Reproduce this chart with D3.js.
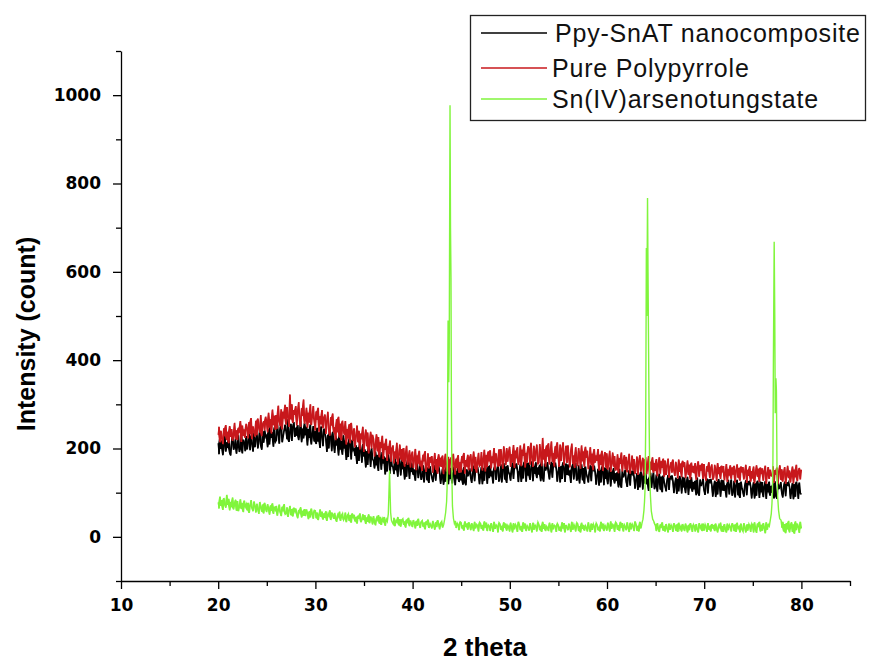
<!DOCTYPE html>
<html>
<head>
<meta charset="utf-8">
<script src="https://cdn.jsdelivr.net/npm/d3@7"></script>
<style>
  body { margin: 0; background: #fff; }
  svg { display: block; }
  .tick text { font-family: "DejaVu Sans", Arial, sans-serif; font-weight: bold; }
</style>
</head>
<body>
<div id="chart"></div>
<script>
// 2 theta scan, 20 -> 80 deg, one value every 0.1 deg (one row per degree)
const thetaStart = 20;
const thetaStep = 0.1;

// Ppy-SnAT nanocomposite
const ppySnat = [
  212, 187, 225, 199, 218, 185, 206, 229, 193, 214,
  201, 226, 190, 184, 216, 231, 197, 205, 222, 188,
  209, 230, 192, 201, 234, 189, 220, 213, 194, 228,
  198, 215, 240, 196, 229, 211, 193, 236, 203, 222,
  233, 200, 220, 245, 207, 197, 238, 213, 241, 226,
  230, 203, 243, 209, 252, 224, 237, 204, 248, 215,
  219, 255, 233, 211, 247, 259, 214, 228, 241, 254,
  240, 221, 266, 215, 235, 256, 217, 249, 260, 226,
  247, 229, 253, 219, 238, 262, 214, 245, 223, 258,
  230, 249, 207, 244, 224, 255, 209, 233, 251, 216,
  239, 210, 247, 216, 236, 201, 250, 228, 205, 245,
  235, 220, 192, 231, 200, 242, 226, 194, 238, 211,
  190, 229, 207, 222, 184, 233, 198, 217, 186, 230,
  200, 218, 174, 213, 181, 223, 208, 175, 220, 196,
  199, 183, 207, 165, 203, 172, 213, 194, 168, 210,
  182, 198, 157, 194, 163, 204, 189, 158, 201, 176,
  172, 155, 193, 162, 185, 149, 195, 178, 152, 192,
  166, 182, 141, 179, 148, 187, 173, 143, 184, 160,
  158, 142, 178, 151, 170, 136, 180, 164, 139, 177,
  153, 169, 130, 165, 136, 174, 160, 131, 171, 147,
  166, 140, 152, 127, 158, 167, 133, 148, 169, 129,
  138, 162, 123, 150, 165, 128, 157, 122, 160, 145,
  135, 124, 142, 162, 127, 159, 151, 160, 146, 120,
  139, 155, 118, 152, 125, 160, 148, 119, 157, 131,
  156, 121, 141, 159, 117, 149, 132, 157, 124, 145,
  128, 150, 118, 158, 123, 117, 153, 137, 144, 155,
  134, 122, 147, 161, 126, 158, 152, 159, 143, 119,
  142, 158, 119, 156, 127, 163, 149, 120, 160, 133,
  162, 137, 148, 121, 155, 163, 129, 151, 165, 125,
  136, 164, 123, 153, 167, 130, 159, 122, 162, 146,
  140, 127, 154, 168, 131, 165, 158, 166, 151, 124,
  148, 164, 124, 161, 132, 170, 156, 125, 167, 139,
  168, 129, 153, 171, 126, 160, 143, 169, 133, 157,
  141, 163, 126, 172, 134, 125, 166, 150, 158, 169,
  144, 130, 156, 170, 134, 167, 161, 168, 154, 125,
  147, 163, 123, 160, 131, 169, 155, 124, 166, 140,
  164, 139, 150, 122, 157, 165, 130, 152, 167, 127,
  135, 162, 121, 151, 164, 128, 156, 120, 159, 143,
  134, 123, 148, 162, 126, 160, 152, 161, 146, 118,
  139, 154, 116, 151, 123, 159, 146, 117, 157, 131,
  155, 119, 142, 157, 114, 148, 130, 156, 121, 144,
  127, 147, 112, 154, 118, 111, 150, 135, 141, 152,
  124, 113, 138, 151, 116, 149, 142, 150, 136, 109,
  129, 144, 106, 141, 112, 148, 135, 107, 146, 121,
  144, 119, 131, 104, 137, 145, 111, 133, 146, 108,
  116, 141, 102, 130, 143, 107, 136, 101, 139, 124,
  114, 103, 128, 140, 106, 138, 132, 139, 126, 99,
  119, 134, 97, 131, 103, 138, 125, 98, 136, 112,
  134, 99, 122, 136, 95, 128, 110, 135, 102, 124,
  108, 127, 94, 134, 99, 93, 130, 115, 121, 132,
  106, 95, 120, 132, 98, 130, 124, 131, 118, 91,
  112, 127, 90, 124, 96, 131, 118, 91, 129, 105,
  128, 104, 116, 89, 122, 129, 96, 118, 130, 93,
  103, 127, 89, 116, 129, 94, 122, 88, 125, 110,
  102, 91, 116, 128, 94, 126, 120, 127, 114, 87,
  109, 124, 87, 121, 93, 127, 115, 88, 125, 101,
  124, 90, 113, 126, 86, 119, 101, 125, 93, 115,
  100, 120, 87, 126, 92, 86, 123, 108, 114, 124,
  100, 89, 114, 125, 92, 123, 118, 124, 112, 86,
  107, 122, 85, 119, 91, 125, 113, 86, 123, 99,
  96
];

// Pure Polypyrrole
const purePpy = [
  231, 249, 214, 240, 222, 210, 246, 228, 253, 219,
  238, 212, 251, 226, 244, 217, 233, 258, 221, 241,
  219, 247, 236, 262, 215, 252, 229, 243, 224, 256,
  245, 223, 260, 233, 269, 221, 250, 239, 227, 263,
  230, 268, 247, 236, 276, 228, 255, 262, 241, 272,
  259, 237, 281, 248, 266, 234, 288, 253, 274, 242,
  276, 245, 297, 262, 251, 289, 243, 283, 268, 299,
  254, 294, 271, 249, 322, 266, 300, 258, 287, 276,
  296, 252, 284, 305, 262, 249, 291, 274, 311, 256,
  268, 292, 247, 281, 259, 300, 253, 275, 296, 262,
  241, 284, 265, 292, 238, 273, 255, 287, 246, 270,
  277, 233, 262, 283, 240, 229, 271, 252, 279, 236,
  248, 219, 266, 237, 272, 225, 256, 218, 263, 241,
  231, 262, 209, 244, 223, 255, 212, 258, 236, 217,
  246, 203, 229, 252, 214, 240, 198, 234, 221, 249,
  192, 226, 243, 205, 236, 189, 217, 238, 200, 231,
  221, 182, 209, 232, 194, 226, 180, 214, 201, 229,
  176, 211, 197, 222, 172, 205, 188, 218, 170, 200,
  207, 166, 193, 178, 213, 164, 186, 209, 175, 199,
  170, 201, 159, 188, 206, 163, 180, 196, 157, 185,
  193, 156, 178, 199, 151, 184, 166, 195, 160, 172,
  149, 186, 171, 194, 147, 163, 189, 155, 180, 168,
  183, 145, 169, 190, 152, 176, 143, 187, 160, 179,
  158, 184, 142, 172, 188, 148, 166, 181, 141, 175,
  180, 150, 188, 163, 141, 177, 156, 185, 145, 169,
  146, 183, 167, 190, 143, 174, 159, 186, 151, 179,
  187, 148, 172, 193, 154, 181, 145, 168, 190, 160,
  163, 192, 150, 177, 197, 148, 185, 158, 193, 171,
  196, 155, 182, 167, 201, 151, 189, 174, 159, 198,
  160, 199, 176, 154, 205, 183, 162, 201, 170, 192,
  204, 158, 187, 169, 208, 156, 195, 178, 203, 163,
  174, 207, 160, 197, 183, 211, 157, 190, 168, 205,
  199, 163, 213, 180, 158, 206, 171, 193, 209, 165,
  168, 210, 186, 160, 224, 175, 198, 159, 207, 182,
  212, 164, 195, 216, 170, 189, 159, 205, 177, 214,
  181, 158, 209, 172, 199, 214, 162, 187, 206, 167,
  207, 176, 157, 195, 211, 165, 184, 156, 203, 173,
  160, 201, 182, 154, 207, 171, 193, 158, 204, 179,
  195, 153, 177, 203, 162, 188, 151, 199, 168, 184,
  172, 199, 150, 186, 163, 195, 149, 180, 192, 157,
  189, 152, 175, 195, 147, 168, 191, 159, 183, 150,
  156, 187, 144, 178, 165, 191, 148, 172, 185, 153,
  181, 146, 170, 188, 143, 162, 184, 151, 176, 142,
  160, 182, 140, 171, 185, 148, 166, 179, 139, 174,
  177, 142, 163, 183, 138, 170, 152, 180, 145, 167,
  149, 176, 137, 165, 180, 143, 171, 156, 177, 136,
  173, 140, 161, 177, 134, 158, 169, 145, 175, 151,
  138, 170, 155, 132, 175, 147, 166, 135, 172, 158,
  169, 133, 152, 173, 140, 163, 130, 168, 146, 160,
  144, 167, 129, 158, 171, 136, 162, 150, 166, 131,
  165, 139, 127, 160, 148, 169, 133, 156, 164, 129,
  135, 163, 150, 126, 167, 142, 158, 131, 161, 146,
  160, 128, 145, 165, 124, 153, 139, 162, 131, 157,
  141, 161, 123, 150, 164, 134, 156, 127, 159, 146,
  158, 130, 147, 163, 122, 152, 138, 160, 125, 149,
  132, 159, 121, 145, 162, 136, 154, 124, 157, 142,
  155, 127, 149, 161, 120, 143, 158, 131, 152, 138,
  137, 160, 122, 151, 141, 157, 119, 148, 162, 129,
  153, 125, 146, 158, 120, 139, 161, 133, 150, 123,
  144, 159, 121, 152, 135, 163, 126, 148, 156, 130,
  152
];

// Sn(IV)arsenotungstate, background part of the scan
const snatBase = [
  78, 64, 91, 70, 83, 61, 88, 73, 66, 95,
  72, 86, 60, 79, 67, 89, 62, 75, 84, 59,
  81, 58, 70, 85, 63, 76, 56, 82, 68, 74,
  60, 77, 54, 71, 83, 65, 58, 80, 69, 55,
  75, 62, 52, 79, 67, 57, 73, 53, 77, 64,
  56, 74, 63, 50, 71, 59, 76, 52, 68, 61,
  70, 48, 62, 73, 55, 47, 68, 58, 74, 51,
  53, 67, 45, 60, 70, 49, 63, 46, 66, 57,
  64, 50, 42, 61, 55, 67, 44, 59, 48, 63,
  47, 62, 53, 40, 58, 44, 64, 51, 41, 60,
  59, 42, 55, 38, 50, 62, 45, 57, 39, 53,
  43, 58, 36, 52, 47, 60, 38, 55, 49, 41,
  54, 40, 34, 50, 45, 57, 36, 48, 53, 38,
  42, 55, 33, 47, 52, 36, 49, 32, 53, 44,
  50, 35, 45, 30, 48, 41, 53, 33, 39, 51,
  38, 49, 29, 44, 34, 51, 31, 46, 40, 28,
  47, 33, 26, 43, 38, 49, 30, 45, 27, 41,
  35, 45, 25, 40, 31, 44, 28, 39, 33, 42,
  29, 43, 24, 37, 33, 45, 26, 40, 23, 38,
  41, 27, 35, 21, 39, 31, 43, 24, 37, 29,
  22, 38, 30, 19, 36, 25, 41, 28, 20, 34,
  37, 23, 32, 17, 35, 27, 39, 20, 30, 25,
  19, 36, 26, 16, 33, 22, 38, 29, 17, 31,
  35, 21, 28, 15, 34, 25, 37, 18, 30, 23,
  17, 33, 24, 14, 36, 20, 31, 27, 15, 34,
  32, 19, 26, 14, 35, 22, 30, 16, 33, 25,
  15, 31, 23, 13, 34, 19, 28, 25, 12, 33,
  30, 18, 26, 14, 35, 21, 32, 13, 27, 24,
  13, 31, 22, 11, 34, 18, 27, 24, 10, 32,
  29, 16, 25, 12, 33, 20, 30, 14, 26, 22,
  12, 32, 21, 10, 31, 17, 28, 23, 11, 34,
  27, 15, 24, 11, 33, 19, 30, 13, 25, 21,
  14, 31, 20, 10, 32, 16, 27, 23, 12, 33,
  28, 15, 25, 11, 34, 18, 29, 13, 24, 20,
  13, 32, 22, 10, 31, 17, 26, 24, 11, 30,
  26, 14, 23, 12, 33, 19, 31, 10, 27, 21,
  15, 30, 21, 11, 34, 16, 28, 22, 12, 32,
  29, 13, 24, 10, 32, 18, 27, 14, 25, 20,
  12, 33, 20, 11, 30, 16, 29, 23, 10, 31,
  27, 15, 22, 12, 34, 19, 30, 13, 26, 21,
  14, 32, 23, 12, 35, 18, 28, 25, 11, 33,
  30, 16, 26, 13, 34, 21, 31, 12, 27, 22,
  15, 33, 20, 11, 32, 17, 29, 24, 13, 35,
  28, 14, 25, 12, 34, 19, 31, 38, 42, 47,
  52, 60, 58, 55, 50, 47, 44, 40, 36, 30,
  26, 13, 31, 18, 11, 28, 21, 33, 14, 24,
  12, 29, 19, 10, 30, 16, 27, 22, 11, 31,
  25, 14, 28, 11, 32, 18, 24, 12, 29, 20,
  13, 30, 21, 10, 27, 15, 31, 23, 11, 28,
  24, 12, 29, 17, 10, 31, 20, 26, 13, 30,
  14, 28, 22, 11, 31, 16, 25, 12, 29, 19,
  27, 13, 30, 18, 10, 26, 21, 32, 12, 24,
  11, 29, 17, 10, 30, 15, 27, 22, 12, 31,
  25, 13, 28, 11, 32, 19, 23, 10, 30, 17,
  12, 31, 20, 10, 28, 14, 29, 24, 11, 30,
  26, 10, 33, 17, 9, 30, 22, 34, 12, 27,
  14, 31, 20, 8, 33, 16, 28, 24, 35, 40,
  50, 60, 70, 60, 50, 45, 40, 35, 30, 38,
  21, 34, 12, 29, 8, 31, 17, 36, 10, 26,
  33, 11, 28, 7, 35, 15, 30, 22, 9, 34,
  19
];

// Sn(IV)arsenotungstate reflections [2 theta, count]
const snatPeaks = [
  { from: 37.35, to: 37.95, points: [[37.4, 35], [37.5, 52], [37.56, 95], [37.63, 150], [37.68, 105], [37.74, 55], [37.82, 38], [37.9, 33]] },
  { from: 43.25, to: 44.35, points: [[43.3, 40], [43.4, 55], [43.5, 80], [43.55, 112], [43.6, 300], [43.65, 490], [43.72, 350], [43.77, 430], [43.85, 977], [43.9, 700], [43.95, 586], [43.99, 300], [44.04, 140], [44.1, 70], [44.2, 42], [44.3, 30]] },
  { from: 63.65, to: 64.75, points: [[63.7, 40], [63.8, 60], [63.86, 80], [63.92, 110], [63.98, 250], [64.05, 654], [64.1, 500], [64.17, 767], [64.22, 600], [64.28, 419], [64.34, 250], [64.4, 130], [64.47, 92], [64.56, 58], [64.66, 45], [64.7, 40]] },
  { from: 76.75, to: 77.85, points: [[76.8, 38], [76.9, 52], [76.97, 75], [77.02, 100], [77.07, 170], [77.12, 400], [77.2, 668], [77.26, 500], [77.31, 280], [77.38, 359], [77.43, 330], [77.49, 150], [77.56, 90], [77.65, 60], [77.76, 42], [77.8, 40]] }
];

const seriesNames = ["Ppy-SnAT nanocomposite", "Pure Polypyrrole", "Sn(IV)arsenotungstate"];
const seriesColors = ["#000000", "#c8181c", "#80f53c"];

const xTicks = [10, 20, 30, 40, 50, 60, 70, 80];
const xMinorTicks = [15, 25, 35, 45, 55, 65, 75, 85];
const yTicks = [0, 200, 400, 600, 800, 1000];
const yMinorTicks = [-100, 100, 300, 500, 700, 900, 1100];

const width = 869, height = 661;
const plot = { left: 121, right: 850, top: 51, bottom: 581 };

const svg = d3.select("#chart").append("svg")
  .attr("width", width)
  .attr("height", height);

const x = d3.scaleLinear().domain([10, 85]).range([plot.left, plot.right]);
const y = d3.scaleLinear().domain([-100, 1100]).range([plot.bottom, plot.top]);

// [theta, count, part of the background?]
const toPoints = arr => arr.map((v, i) => [thetaStart + i * thetaStep, v, true]);

// noisy trace: fill between each value and the next one, then the line itself
const drawTrace = (pts, color, lineWidth) => {
  const next = i => pts[i + 1] || pts[i];
  const area = d3.area()
    .defined((d, i) => d[2] && next(i)[2])
    .x(d => x(d[0]))
    .y0((d, i) => y(Math.min(d[1], next(i)[1])))
    .y1((d, i) => y(Math.max(d[1], next(i)[1])));
  svg.append("path").datum(pts).attr("d", area).attr("fill", color);

  const line = d3.line().x(d => x(d[0])).y(d => y(d[1]));
  svg.append("path").datum(pts)
    .attr("d", line)
    .attr("fill", "none")
    .attr("stroke", color)
    .attr("stroke-width", lineWidth)
    .attr("stroke-linejoin", "miter");
};

drawTrace(toPoints(ppySnat), seriesColors[0], 1.4);
drawTrace(toPoints(purePpy), seriesColors[1], 1.4);

// merge background and peaks for the Sn(IV)arsenotungstate scan
let snat = toPoints(snatBase).filter(p => !snatPeaks.some(pk => p[0] >= pk.from && p[0] <= pk.to));
snatPeaks.forEach(pk => { snat = snat.concat(pk.points.map(p => [p[0], p[1], false])); });
snat.sort((a, b) => a[0] - b[0]);
drawTrace(snat, seriesColors[2], 1.4);

// axes
const styleAxis = g => {
  g.selectAll("path, line").attr("stroke", "#000").attr("stroke-width", 1.3);
  g.selectAll("text").attr("fill", "#000").attr("font-size", 17);
};

svg.append("g")
  .attr("transform", `translate(0,${plot.bottom})`)
  .call(d3.axisBottom(x).tickValues(xMinorTicks).tickSize(5).tickSizeOuter(0).tickFormat(""))
  .call(styleAxis);
svg.append("g")
  .attr("transform", `translate(0,${plot.bottom})`)
  .call(d3.axisBottom(x).tickValues(xTicks).tickSize(8).tickSizeOuter(0).tickPadding(10))
  .call(styleAxis)
  .call(g => g.select(".domain").remove());

svg.append("g")
  .attr("transform", `translate(${plot.left},0)`)
  .call(d3.axisLeft(y).tickValues(yMinorTicks).tickSize(5).tickSizeOuter(0).tickFormat(""))
  .call(styleAxis);
svg.append("g")
  .attr("transform", `translate(${plot.left},0)`)
  .call(d3.axisLeft(y).tickValues(yTicks).tickSize(8).tickSizeOuter(0).tickPadding(12).tickFormat(d3.format("d")))
  .call(styleAxis)
  .call(g => g.select(".domain").remove());

// axis titles
svg.append("text")
  .attr("transform", "translate(35,334) rotate(-90)")
  .attr("text-anchor", "middle")
  .attr("font-family", "Liberation Sans, Arial, sans-serif")
  .attr("font-weight", "bold")
  .attr("font-size", 25)
  .text("Intensity (count)");

svg.append("text")
  .attr("x", 485)
  .attr("y", 656)
  .attr("text-anchor", "middle")
  .attr("font-family", "Liberation Sans, Arial, sans-serif")
  .attr("font-weight", "bold")
  .attr("font-size", 26)
  .text("2 theta");

// legend
const legend = svg.append("g");
legend.append("rect")
  .attr("x", 470.5).attr("y", 15.5)
  .attr("width", 395).attr("height", 105)
  .attr("fill", "#fff")
  .attr("stroke", "#222")
  .attr("stroke-width", 1.3);

const legendY = [33, 68, 99];
seriesNames.forEach((name, i) => {
  legend.append("line")
    .attr("x1", 481).attr("x2", 547)
    .attr("y1", legendY[i]).attr("y2", legendY[i])
    .attr("stroke", seriesColors[i])
    .attr("stroke-width", 1.3);
  legend.append("text")
    .attr("x", i === 0 ? 555 : 552)
    .attr("y", legendY[i] + 9)
    .attr("font-family", "Liberation Sans, Arial, sans-serif")
    .attr("font-size", 25)
    .attr("letter-spacing", 0.8)
    .attr("fill", "#111")
    .text(name);
});
</script>
</body>
</html>
